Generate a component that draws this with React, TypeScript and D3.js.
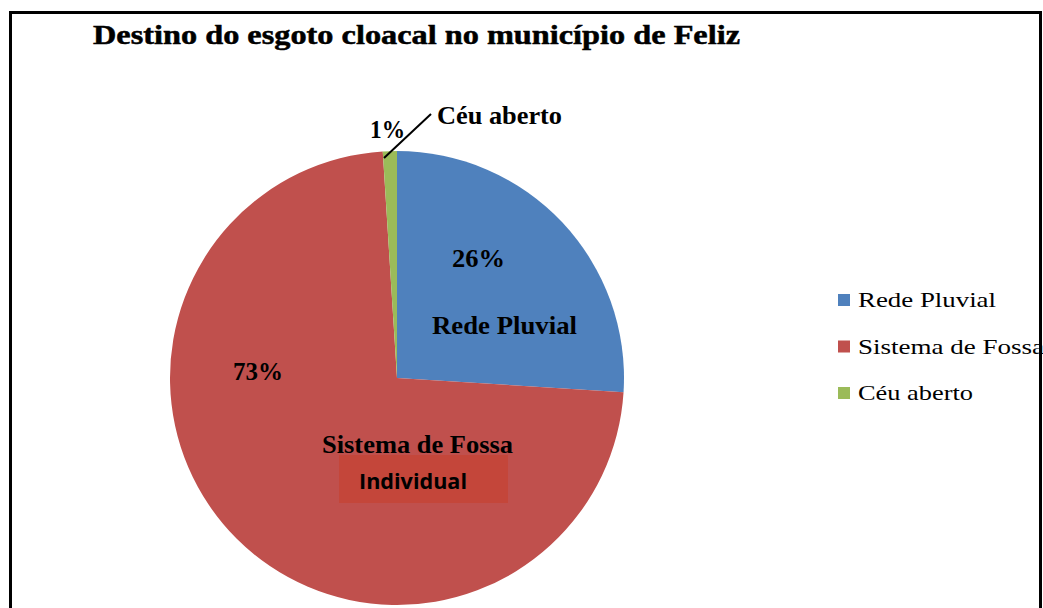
import React, { useEffect, useRef } from "react";
import * as d3 from "d3";

const categories = ["Rede Pluvial", "Sistema de Fossa", "Céu aberto"];
const values = [26, 73, 1];
const percentLabels = ["26%", "73%", "1%"];
const colors = ["#4F81BD", "#C0504D", "#9BBB59"];

const width = 1043;
const height = 608;

const App = () => {
  const ref = useRef<SVGSVGElement>(null);

  useEffect(() => {
    drawChart();
  }, []);

  function drawChart() {
    const svg = d3.select(ref.current);
    svg.selectAll("*").remove();

    const cx = 397;
    const cy = 378;
    const radius = 227;
    const serif = "'Liberation Serif', 'Times New Roman', serif";

    svg.append("rect").attr("width", width).attr("height", height).attr("fill", "#fff");

    // outer frame (bottom is cut off)
    svg
      .append("path")
      .attr("d", `M10.5,${height + 5} V12.5 H1040.5 V${height + 5}`)
      .attr("fill", "none")
      .attr("stroke", "#000")
      .attr("stroke-width", 3);

    svg
      .append("text")
      .attr("x", 93)
      .attr("y", 44)
      .attr("font-family", serif)
      .attr("font-weight", "bold")
      .attr("font-size", 27)
      .attr("stroke", "#000")
      .attr("stroke-width", 0.5)
      .attr("textLength", 647)
      .attr("lengthAdjust", "spacingAndGlyphs")
      .text("Destino do esgoto cloacal no município de Feliz");

    const pie = d3
      .pie<number>()
      .sort(null)
      .value((d) => d);
    const arcs = pie(values);
    const arc = d3.arc<d3.PieArcDatum<number>>().innerRadius(0).outerRadius(radius);

    const g = svg.append("g").attr("transform", `translate(${cx},${cy})`);
    g.selectAll("path")
      .data(arcs)
      .join("path")
      .attr("d", arc)
      .attr("fill", (d, i) => colors[i]);

    // box behind "Individual"
    svg
      .append("rect")
      .attr("x", 339)
      .attr("y", 455)
      .attr("width", 169)
      .attr("height", 48)
      .attr("fill", "#C4463A");

    const bold = (x: number, y: number, t: string, len: number, size = 26) =>
      svg
        .append("text")
        .attr("x", x)
        .attr("y", y)
        .attr("font-family", serif)
        .attr("font-weight", "bold")
        .attr("font-size", size)
        .attr("textLength", len)
        .attr("lengthAdjust", "spacingAndGlyphs")
        .text(t);

    bold(452, 267, percentLabels[0], 53);
    bold(432, 334, categories[0], 145, 25);
    bold(233, 380, percentLabels[1], 50, 25);
    bold(322, 453, "Sistema de Fossa", 191);
    bold(370, 138, percentLabels[2], 35, 25);
    bold(437, 124, categories[2], 125, 25);

    svg
      .append("text")
      .attr("x", 359)
      .attr("y", 489)
      .attr("font-family", "'Open Sans', 'Noto Sans', sans-serif")
      .attr("font-weight", "bold")
      .attr("font-size", 22)
      .attr("textLength", 108)
      .attr("lengthAdjust", "spacingAndGlyphs")
      .text("Individual");

    // leader line for the small slice
    svg
      .append("line")
      .attr("x1", 384)
      .attr("y1", 158)
      .attr("x2", 431)
      .attr("y2", 114)
      .attr("stroke", "#000")
      .attr("stroke-width", 2);

    // legend
    const legendLen = [138, 186, 115];
    const legend = svg
      .append("g")
      .selectAll("g")
      .data(categories)
      .join("g")
      .attr("transform", (d, i) => `translate(838,${300 + i * 46.5})`);
    legend
      .append("rect")
      .attr("y", -6)
      .attr("width", 12)
      .attr("height", 12)
      .attr("fill", (d, i) => colors[i]);
    legend
      .append("text")
      .attr("x", 20)
      .attr("y", 7)
      .attr("font-family", serif)
      .attr("font-size", 21)
      .attr("textLength", (d, i) => legendLen[i])
      .attr("lengthAdjust", "spacingAndGlyphs")
      .text((d) => d);

    // right frame edge drawn over the clipped legend text
    svg
      .append("line")
      .attr("x1", 1040.5)
      .attr("y1", 11)
      .attr("x2", 1040.5)
      .attr("y2", height)
      .attr("stroke", "#000")
      .attr("stroke-width", 3);
  }

  return (
    <svg
      ref={ref}
      width={width}
      height={height}
      style={{ position: "absolute", left: 0, top: 0, display: "block" }}
    />
  );
};

export default App;
